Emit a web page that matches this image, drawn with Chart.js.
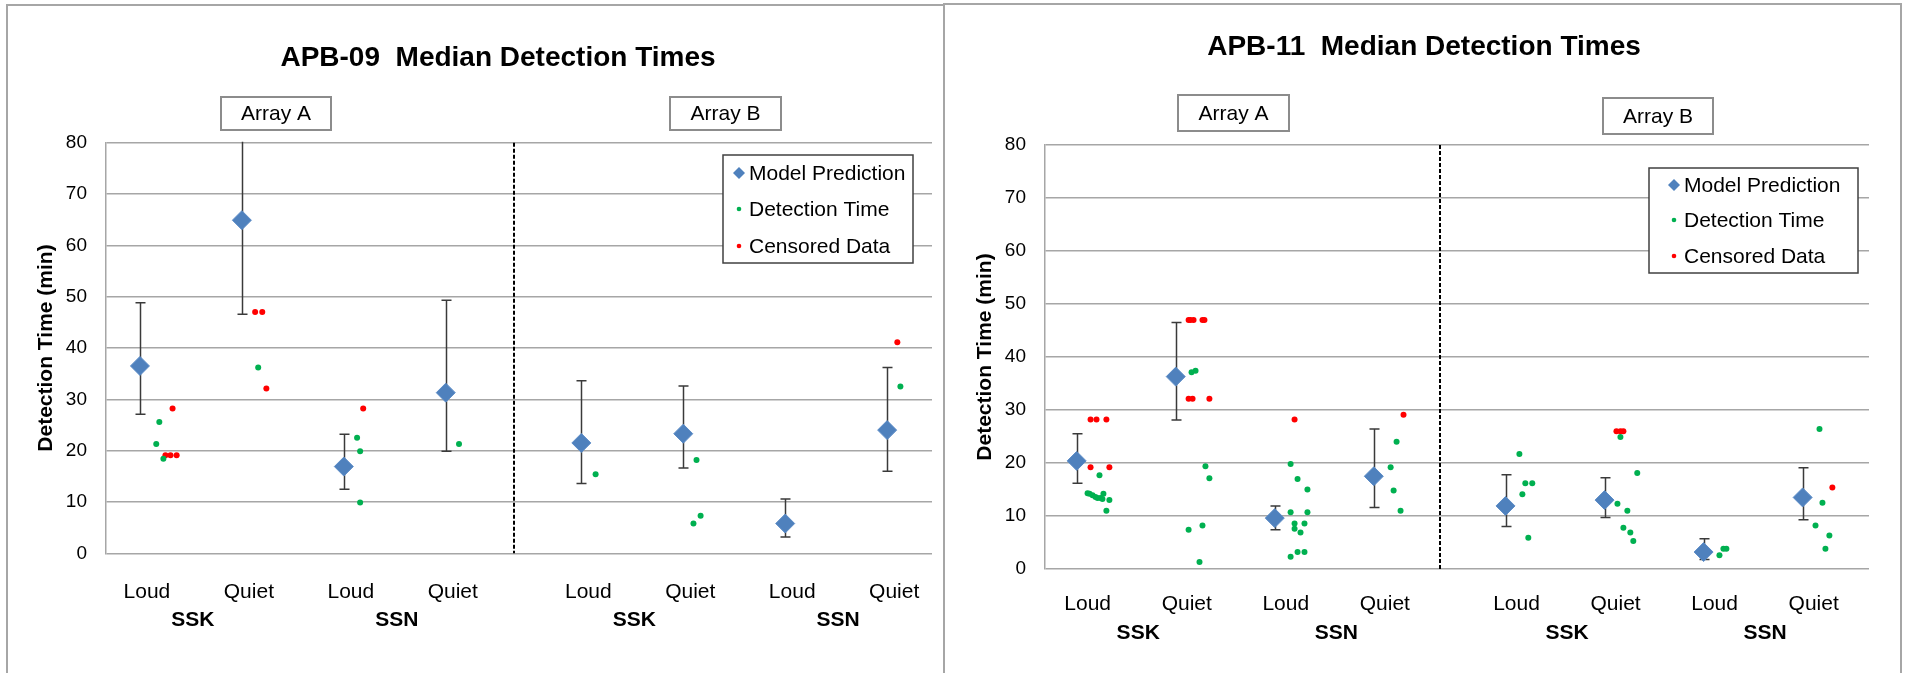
<!DOCTYPE html>
<html>
<head>
<meta charset="utf-8">
<script src="https://cdn.jsdelivr.net/npm/chart.js@4.4.1/dist/chart.umd.min.js"></script>
<style>
    html, body { margin: 0; padding: 0; background: #fff; overflow: hidden; }
    #page { position: relative; width: 1909px; height: 673px; }
    .panel { position: absolute; top: 0; height: 673px; }
    #left { left: 0; width: 945px; }
    #right { left: 945px; width: 964px; }
    .frame { position: absolute; border: 2px solid #a6a6a6; border-bottom: none; pointer-events: none; }
</style>
</head>
<body>
<div id="page">
    <div class="panel" id="left"><canvas id="c09"></canvas></div>
    <div class="panel" id="right"><canvas id="c11"></canvas></div>
    <div class="frame" style="left:6px; top:4px; width:937px; height:700px; border-right:none;"></div>
    <div class="frame" style="left:943px; top:3px; width:955px; height:700px;"></div>
</div>

<script>
// shared categories
const catLabels = ['Loud', 'Quiet', 'Loud', 'Quiet', 'Loud', 'Quiet', 'Loud', 'Quiet'];
const groupLabels = ['SSK', 'SSN', 'SSK', 'SSN'];
const arrayLabels = ['Array A', 'Array B'];
const catPos = [1, 2, 3, 4, 5.33, 6.33, 7.33, 8.33];
const splitAt = 4.665;
const yMax = 80;
const yStep = 10;

// APB-09
const model09 = [36.5, 64.9, 16.9, 31.3, 21.5, 23.3, 5.8, 24.0];
const low09 = [27.1, 46.6, 12.5, 19.9, 13.6, 16.6, 3.2, 16.0];
const high09 = [48.8, 85, 23.2, 49.3, 33.6, 32.6, 10.6, 36.2];
const detect09 = [
    [1.19, 25.6], [1.16, 21.3], [1.23, 18.4],
    [2.16, 36.2],
    [3.13, 22.5], [3.16, 19.9], [3.16, 9.9],
    [4.13, 21.3],
    [5.47, 15.4],
    [6.46, 18.2], [6.43, 5.8], [6.50, 7.3],
    [8.46, 32.5]
];
const censored09 = [
    [1.32, 28.2], [1.25, 19.1], [1.30, 19.1], [1.36, 19.1],
    [2.13, 47.0], [2.20, 47.0], [2.24, 32.1],
    [3.19, 28.2],
    [8.43, 41.1]
];

// APB-11
const model11 = [20.4, 36.3, 9.6, 17.5, 11.9, 13.0, 3.2, 13.5];
const low11 = [16.2, 28.1, 7.4, 11.6, 8.0, 9.7, 1.8, 9.3];
const high11 = [25.5, 46.5, 11.9, 26.4, 17.8, 17.2, 5.7, 19.1];
const detect11 = [
    [1.23, 17.7], [1.11, 14.3], [1.13, 14.2], [1.16, 13.9], [1.19, 13.6], [1.21, 13.4],
    [1.24, 13.4], [1.27, 14.2], [1.26, 13.2], [1.33, 13.0], [1.30, 11.0],
    [2.16, 37.1], [2.20, 37.4], [2.30, 19.4], [2.34, 17.1], [2.13, 7.4], [2.27, 8.2], [2.24, 1.3],
    [3.16, 19.8], [3.23, 17.0], [3.33, 15.0], [3.16, 10.7], [3.33, 10.7], [3.20, 8.6],
    [3.30, 8.6], [3.20, 7.6], [3.26, 6.9], [3.16, 2.3], [3.23, 3.2], [3.30, 3.2],
    [4.23, 24.0], [4.17, 19.2], [4.20, 14.8], [4.27, 11.0],
    [5.47, 21.7], [5.53, 16.2], [5.60, 16.2], [5.50, 14.1], [5.56, 5.9],
    [6.49, 24.9], [6.66, 18.1], [6.46, 12.3], [6.56, 11.0], [6.52, 7.8], [6.59, 6.9], [6.62, 5.3],
    [7.49, 2.6], [7.53, 3.8], [7.56, 3.8],
    [8.50, 26.4], [8.53, 12.5], [8.46, 8.2], [8.60, 6.3], [8.56, 3.8]
];
const censored11 = [
    [1.14, 28.2], [1.20, 28.2], [1.30, 28.2], [1.14, 19.2], [1.33, 19.2],
    [2.13, 47.0], [2.15, 47.0], [2.18, 47.0], [2.27, 47.0], [2.29, 47.0],
    [2.13, 32.1], [2.17, 32.1], [2.34, 32.1],
    [3.20, 28.2],
    [4.30, 29.1],
    [6.45, 26.0], [6.49, 26.0], [6.52, 26.0],
    [8.63, 15.4]
];

const FONT = '"Liberation Sans", Arial, sans-serif';

// Draws the extras Excel had: error bars, separator, title, array boxes, group labels, legend
const makeDecor = (spec) => ({
    id: 'decor',
    beforeDatasetsDraw(chart) {
        const { ctx, chartArea: a, scales: { x, y } } = chart;

        // dashed divider between Array A and Array B
        ctx.save();
        const sx = Math.round(x.getPixelForValue(splitAt));
        ctx.strokeStyle = '#000';
        ctx.lineWidth = 2;
        ctx.setLineDash([4, 2]);
        ctx.beginPath();
        ctx.moveTo(sx, a.top);
        ctx.lineTo(sx, a.bottom);
        ctx.stroke();
        ctx.restore();

        // error bars, clipped to the plot
        ctx.save();
        ctx.beginPath();
        ctx.rect(a.left, a.top - 1, a.right - a.left, a.bottom - a.top + 2);
        ctx.clip();
        ctx.strokeStyle = '#3a3a3a';
        ctx.lineWidth = 1.5;
        spec.low.forEach((lo, i) => {
            const px = Math.round(x.getPixelForValue(catPos[i])) + 0.5;
            const pLo = y.getPixelForValue(lo);
            const pHi = y.getPixelForValue(spec.high[i]);
            ctx.beginPath();
            ctx.moveTo(px, pLo); ctx.lineTo(px, pHi);
            ctx.moveTo(px - 5, pLo); ctx.lineTo(px + 5, pLo);
            ctx.moveTo(px - 5, pHi); ctx.lineTo(px + 5, pHi);
            ctx.stroke();
        });
        ctx.restore();
    },
    afterDraw(chart) {
        const { ctx, scales: { x } } = chart;
        ctx.save();
        ctx.textAlign = 'center';
        ctx.textBaseline = 'middle';
        ctx.fillStyle = '#000';

        // title
        ctx.font = `bold 28px ${FONT}`;
        ctx.fillText(spec.title, spec.titleX, spec.titleY);

        // Array A / Array B boxes
        ctx.font = `21px ${FONT}`;
        spec.arrayBoxes.forEach((b, i) => {
            ctx.fillStyle = '#fff';
            ctx.fillRect(b.x, b.y, b.w, b.h);
            ctx.strokeStyle = '#8c8c8c';
            ctx.lineWidth = 2;
            ctx.strokeRect(b.x, b.y, b.w, b.h);
            ctx.fillStyle = '#000';
            ctx.fillText(arrayLabels[i], b.x + b.w / 2, b.y + b.h / 2 + 1);
        });

        // SSK / SSN under each Loud-Quiet pair
        ctx.font = `bold 21px ${FONT}`;
        groupLabels.forEach((g, i) => {
            const gx = (x.getPixelForValue(catPos[2 * i]) + x.getPixelForValue(catPos[2 * i + 1])) / 2;
            ctx.fillText(g, gx + spec.groupNudge, spec.groupY);
        });

        // legend box inside the plot
        const lg = spec.legend;
        ctx.fillStyle = '#fff';
        ctx.fillRect(lg.x, lg.y, lg.w, lg.h);
        ctx.strokeStyle = '#404040';
        ctx.lineWidth = 1.5;
        ctx.strokeRect(lg.x, lg.y, lg.w, lg.h);
        ctx.font = `21px ${FONT}`;
        ctx.textAlign = 'left';
        chart.data.datasets.forEach((ds, i) => {
            const ry = lg.rows[i];
            ctx.fillStyle = ds.backgroundColor;
            ctx.beginPath();
            if (ds.pointStyle === 'rectRot') {
                ctx.moveTo(lg.iconX - 6, ry);
                ctx.lineTo(lg.iconX, ry - 6);
                ctx.lineTo(lg.iconX + 6, ry);
                ctx.lineTo(lg.iconX, ry + 6);
                ctx.closePath();
            } else {
                ctx.arc(lg.iconX, ry, 2.3, 0, Math.PI * 2);
            }
            ctx.fill();
            ctx.fillStyle = '#000';
            ctx.fillText(ds.label, lg.textX, ry + 1);
        });
        ctx.restore();
    }
});

const buildChart = (canvasId, spec) => new Chart(document.getElementById(canvasId), {
    type: 'scatter',
    data: {
        datasets: [
            {
                label: 'Model Prediction',
                data: catPos.map((c, i) => ({ x: c, y: spec.model[i] })),
                pointStyle: 'rectRot',
                pointRadius: 9.5,
                pointHoverRadius: 9.5,
                backgroundColor: '#4F81BD',
                borderColor: '#5B8BC6',
                borderWidth: 1
            },
            {
                label: 'Detection Time',
                data: spec.detect.map(([x, y]) => ({ x, y })),
                pointStyle: 'circle',
                pointRadius: 3,
                pointHoverRadius: 3,
                backgroundColor: '#00B050',
                borderWidth: 0
            },
            {
                label: 'Censored Data',
                data: spec.censored.map(([x, y]) => ({ x, y })),
                pointStyle: 'circle',
                pointRadius: 3,
                pointHoverRadius: 3,
                backgroundColor: '#FF0000',
                borderWidth: 0
            }
        ]
    },
    options: {
        responsive: true,
        maintainAspectRatio: false,
        animation: false,
        events: [],
        layout: { padding: spec.padding },
        plugins: {
            legend: { display: false },
            tooltip: { enabled: false },
            title: { display: false }
        },
        scales: {
            x: {
                type: 'linear',
                min: spec.xMin,
                max: spec.xMax,
                grid: { display: false },
                border: { display: false },
                afterBuildTicks: (s) => { s.ticks = catPos.map(v => ({ value: v })); },
                afterFit: (s) => { s.height = 80; },
                ticks: {
                    autoSkip: false,
                    maxRotation: 0,
                    padding: spec.xTickPad,
                    labelOffset: spec.labelNudge,
                    color: '#000',
                    font: { size: 21, family: FONT },
                    callback: (v, i) => catLabels[i]
                }
            },
            y: {
                min: 0,
                max: yMax,
                afterFit: (s) => { s.width = spec.yWidth; },
                ticks: { stepSize: yStep, padding: 19, color: '#000', font: { size: 19, family: FONT } },
                grid: { color: '#a6a6a6', lineWidth: 1.5, drawTicks: false },
                border: { display: true, color: '#a6a6a6', width: 1.5 },
                title: {
                    display: true,
                    text: 'Detection Time (min)',
                    color: '#000',
                    font: { size: 21, weight: 'bold', family: FONT },
                    padding: { top: spec.yTitlePad, bottom: 0 }
                }
            }
        }
    },
    plugins: [makeDecor(spec)]
});

buildChart('c09', {
    title: 'APB-09  Median Detection Times',
    model: model09, low: low09, high: high09, detect: detect09, censored: censored09,
    xMin: 0.667, xMax: 8.77,
    padding: { left: 0, right: 13, top: 142.7, bottom: 39.7 },
    yWidth: 106, yTitlePad: 34, xTickPad: 18, labelNudge: 7,
    titleX: 498, titleY: 58,
    groupY: 620, groupNudge: 2,
    arrayBoxes: [{ x: 221, y: 97, w: 110, h: 33 }, { x: 670, y: 97, w: 111, h: 33 }],
    legend: { x: 723, y: 155, w: 190, h: 108, iconX: 739, textX: 749, rows: [173, 209, 246] }
});

buildChart('c11', {
    title: 'APB-11  Median Detection Times',
    model: model11, low: low11, high: high11, detect: detect11, censored: censored11,
    xMin: 0.68, xMax: 9.0,
    padding: { left: 0, right: 40, top: 145, bottom: 24 },
    yWidth: 100, yTitlePad: 28, xTickPad: 15, labelNudge: 11,
    titleX: 479, titleY: 47,
    groupY: 633, groupNudge: 12,
    arrayBoxes: [{ x: 233, y: 95, w: 111, h: 36 }, { x: 658, y: 98, w: 110, h: 36 }],
    legend: { x: 704, y: 168, w: 209, h: 105, iconX: 729, textX: 739, rows: [185, 220, 256] }
});
</script>
</body>
</html>
